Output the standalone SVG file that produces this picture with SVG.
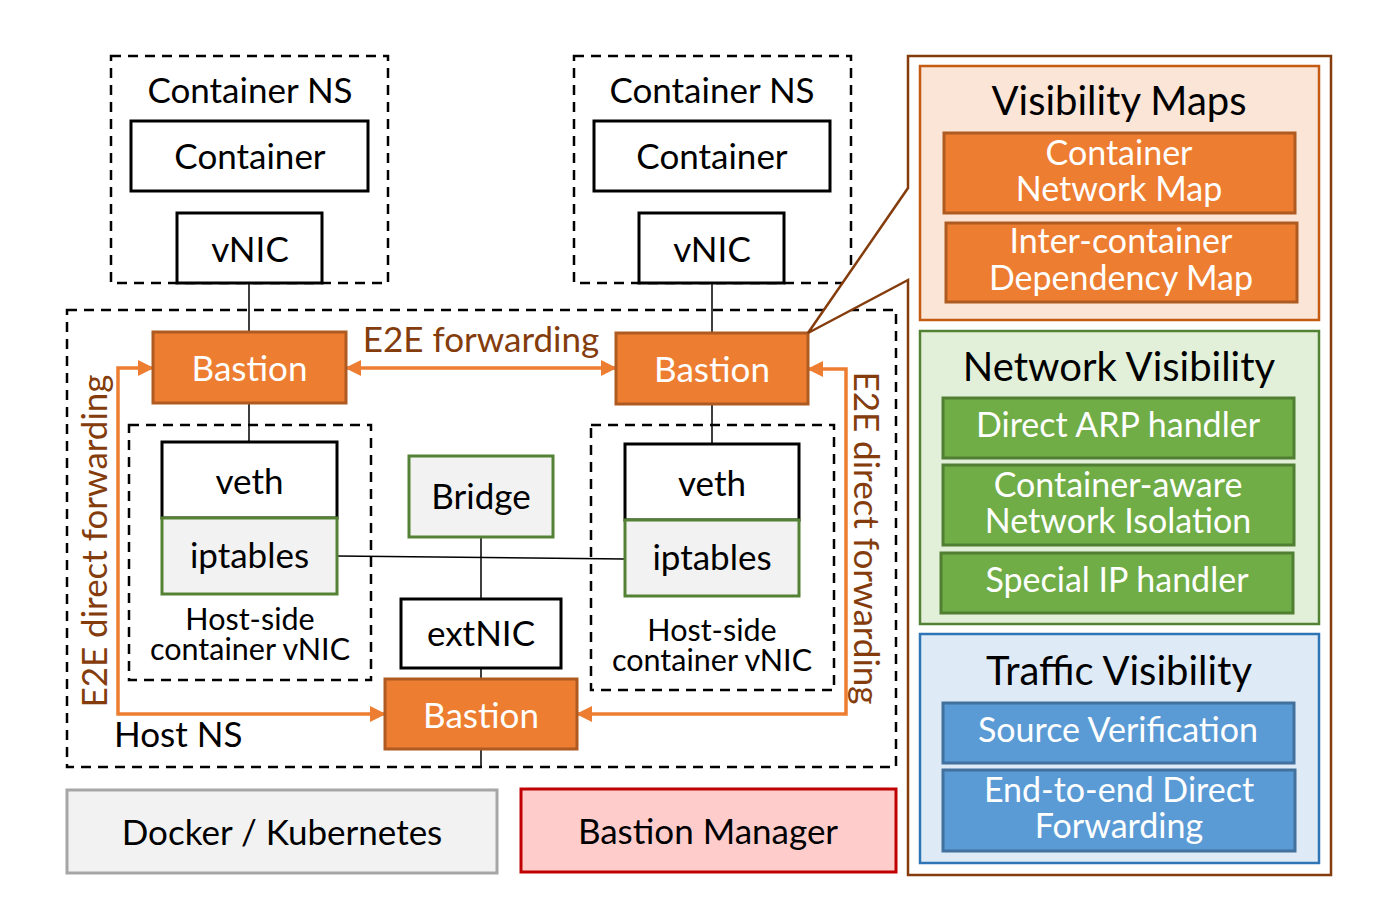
<svg xmlns="http://www.w3.org/2000/svg" width="1382" height="924" viewBox="0 0 1382 924">
<style>
text{font-family:Lato,"Open Sans","Liberation Sans",sans-serif;text-anchor:middle}
.t{font-size:35px;fill:#000}
.s{font-size:30.5px;fill:#000}
.w{font-size:34px;fill:#fff}
.b{font-size:35px;fill:#fff}
.h{font-size:40px;fill:#000}
.lbl{font-size:35px;fill:#843C0C}
.dash{fill:none;stroke:#000;stroke-width:2.5;stroke-dasharray:10,7}
.box{fill:#fff;stroke:#000;stroke-width:3}
.grn{fill:#F2F2F2;stroke:#548235;stroke-width:3}
.bas{fill:#ED7D31;stroke:#AE5A21;stroke-width:3}
.ln{stroke:#000;stroke-width:1.5;fill:none}
.arr{stroke:#ED7D31;stroke-width:3.5;fill:none}
.om{fill:#ED7D31;stroke:#AE5A21;stroke-width:3}
.gm{fill:#70AD47;stroke:#507E32;stroke-width:3}
.bm{fill:#5B9BD5;stroke:#41719C;stroke-width:3}
</style>
<defs>
<marker id="ah" markerUnits="userSpaceOnUse" markerWidth="16" markerHeight="16" refX="15" refY="8" orient="auto-start-reverse" viewBox="0 0 16 16">
<path d="M0,0 L16,8 L0,16 Z" fill="#ED7D31"/>
</marker>
</defs>

<g id="host-ns">
<rect class="dash" x="67" y="310" width="829" height="457"/>
<text class="t" x="114" y="747" style="text-anchor:start">Host NS</text>
</g>

<g id="container-ns-left">
<rect class="dash" x="111" y="56" width="277" height="227"/>
<text class="t" x="250" y="103">Container NS</text>
</g>
<g id="container-left"><rect class="box" x="131" y="121" width="237" height="70"/><text class="t" x="250" y="169">Container</text></g>
<g id="vnic-left"><rect class="box" x="177" y="213" width="145" height="70"/><text class="t" x="250" y="262">vNIC</text></g>

<g id="container-ns-right">
<rect class="dash" x="574" y="56" width="277" height="227"/>
<text class="t" x="712" y="103">Container NS</text>
</g>
<g id="container-right"><rect class="box" x="594" y="121" width="236" height="70"/><text class="t" x="712" y="169">Container</text></g>
<g id="vnic-right"><rect class="box" x="639" y="213" width="145" height="70"/><text class="t" x="712" y="262">vNIC</text></g>

<g id="connectors">
<path class="ln" d="M249,283 V332 M249,403 V442 M712,283 V333 M712,404 V444 M481,537 V599 M481,668 V679 M481,749 V767 M337,556 L625,559"/>
<path class="arr" d="M346,368 H616" marker-start="url(#ah)" marker-end="url(#ah)"/>
<path class="arr" d="M153,368 H118 V714 H385" marker-start="url(#ah)" marker-end="url(#ah)"/>
<path class="arr" d="M808,369 H846 V714 H577" marker-start="url(#ah)" marker-end="url(#ah)"/>
<text class="lbl" x="481" y="352">E2E forwarding</text>
<text class="lbl" transform="translate(95,541) rotate(-90)" y="12">E2E direct forwarding</text>
<text class="lbl" transform="translate(866,538) rotate(90)" y="12">E2E direct forwarding</text>
</g>

<g id="bastion-left"><rect class="bas" x="153" y="332" width="193" height="71"/><text class="b" x="249.5" y="381">Bastion</text></g>
<g id="bastion-right"><rect class="bas" x="616" y="333" width="192" height="71"/><text class="b" x="712" y="382">Bastion</text></g>
<g id="bastion-bottom"><rect class="bas" x="385" y="679" width="192" height="70"/><text class="b" x="481" y="728">Bastion</text></g>

<g id="hostside-left">
<rect class="dash" x="129" y="425" width="242" height="255"/>
<text class="s" x="250" y="630">Host-side</text>
<text class="s" x="250" y="660">container vNIC</text>
</g>
<g id="veth-left"><rect class="box" x="162" y="442" width="175" height="76"/><text class="t" x="249.5" y="494">veth</text></g>
<g id="iptables-left"><rect class="grn" x="162" y="518" width="175" height="76"/><text class="t" x="249.5" y="568">iptables</text></g>

<g id="hostside-right">
<rect class="dash" x="591" y="425" width="243" height="265"/>
<text class="s" x="712" y="641">Host-side</text>
<text class="s" x="712" y="671">container vNIC</text>
</g>
<g id="veth-right"><rect class="box" x="625" y="444" width="174" height="76"/><text class="t" x="712" y="496">veth</text></g>
<g id="iptables-right"><rect class="grn" x="625" y="520" width="174" height="76"/><text class="t" x="712" y="570">iptables</text></g>

<g id="bridge"><rect class="grn" x="409" y="456" width="144" height="81"/><text class="t" x="481" y="509">Bridge</text></g>
<g id="extnic"><rect class="box" x="401" y="599" width="160" height="69"/><text class="t" x="481" y="646">extNIC</text></g>

<g id="docker"><rect x="67" y="790" width="430" height="83" fill="#F2F2F2" stroke="#A6A6A6" stroke-width="3"/><text class="t" x="282" y="845">Docker / Kubernetes</text></g>
<g id="bastion-manager"><rect x="521" y="789" width="375" height="83" fill="#FFCCCC" stroke="#C00000" stroke-width="3"/><text class="t" x="708" y="844">Bastion Manager</text></g>

<g id="panel">
<path d="M908,56 H1331 V875 H908 V280 L808,333 L908,188 Z" fill="#fff" stroke="#843C0C" stroke-width="2.5"/>
</g>

<g id="visibility-maps">
<rect x="920" y="66" width="399" height="254" fill="#FBE5D6" stroke="#C55A11" stroke-width="2.5"/>
<text class="h" x="1119" y="115">Visibility Maps</text>
</g>
<g id="container-network-map"><rect class="om" x="944" y="133" width="351" height="80"/><text class="w" x="1119" y="165">Container</text><text class="w" x="1119" y="201">Network Map</text></g>
<g id="dependency-map"><rect class="om" x="946" y="223" width="351" height="79"/><text class="w" x="1121" y="253">Inter-container</text><text class="w" x="1121" y="290">Dependency Map</text></g>

<g id="network-visibility">
<rect x="920" y="331" width="399" height="293" fill="#E2F0D9" stroke="#548235" stroke-width="2.5"/>
<text class="h" x="1119" y="381">Network Visibility</text>
</g>
<g id="arp-handler"><rect class="gm" x="943" y="398" width="351" height="60"/><text class="w" x="1118" y="437">Direct ARP handler</text></g>
<g id="network-isolation"><rect class="gm" x="943" y="465" width="351" height="80"/><text class="w" x="1118" y="497">Container-aware</text><text class="w" x="1118" y="533">Network Isolation</text></g>
<g id="special-ip"><rect class="gm" x="941" y="553" width="352" height="60"/><text class="w" x="1117" y="592">Special IP handler</text></g>

<g id="traffic-visibility">
<rect x="920" y="634" width="399" height="229" fill="#DEEBF7" stroke="#2E75B6" stroke-width="2.5"/>
<text class="h" x="1119" y="685">Traffic Visibility</text>
</g>
<g id="source-verification"><rect class="bm" x="943" y="703" width="351" height="60"/><text class="w" x="1118" y="742">Source Verification</text></g>
<g id="e2e-direct"><rect class="bm" x="943" y="770" width="352" height="81"/><text class="w" x="1119" y="802">End-to-end Direct</text><text class="w" x="1119" y="838">Forwarding</text></g>
</svg>
